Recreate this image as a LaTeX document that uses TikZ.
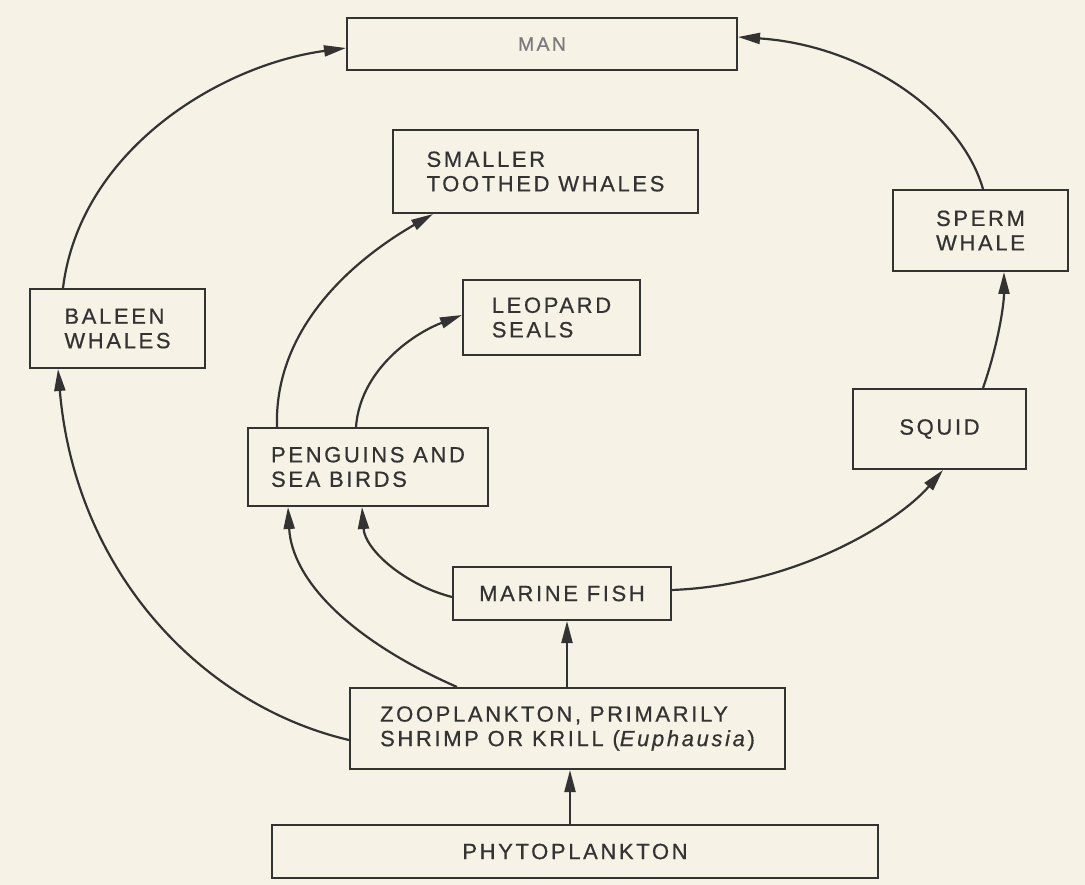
\documentclass[tikz,border=0pt]{standalone}
\usepackage{fontspec}
\setmainfont{Liberation Sans}[LetterSpace=12, FakeBold=0.6]
\usetikzlibrary{arrows.meta}
\definecolor{paper}{HTML}{F6F2E6}
\definecolor{ink}{HTML}{333333}
\definecolor{faint}{HTML}{7A7A7A}
\tikzset{
  box/.style={draw=ink, line width=2pt, rectangle, inner sep=0pt, align=left, text=ink,
    font=\fontsize{22}{24.5}\selectfont},
  arr/.style={draw=ink, line width=2.2pt, -{Triangle[length=22pt,width=11pt]}},
}
\begin{document}
\begin{tikzpicture}[x=1pt, y=-1pt]
\fill[paper] (0,0) rectangle (1085,885);
\useasboundingbox (0,0) rectangle (1085,885);

\node[box, minimum width=390pt, minimum height=52pt, text=faint, font=\fontsize{19.5}{24}\selectfont] (man) at (542,44) {MAN};
\node[box, minimum width=305pt, minimum height=83pt] (stw) at (545.5,171.5) {SMALLER\\TOOTHED WHALES};
\node[box, minimum width=175pt, minimum height=79pt] (bal) at (117.5,328.5) {BALEEN\\WHALES};
\node[box, minimum width=177pt, minimum height=75pt] (leo) at (551.5,317.5) {LEOPARD\\SEALS};
\node[box, minimum width=175pt, minimum height=81pt] (sperm) at (980.5,230.5) {SPERM\\WHALE};
\node[box, minimum width=173pt, minimum height=80pt] (squid) at (939.5,429) {SQUID};
\node[box, minimum width=240pt, minimum height=78pt] (peng) at (368,467) {PENGUINS AND\\SEA BIRDS};
\node[box, minimum width=218pt, minimum height=53pt] (fish) at (562,593.5) {MARINE FISH};
\node[box, minimum width=435pt, minimum height=81pt] (zoo) at (567.5,728.5) {ZOOPLANKTON, PRIMARILY\\SHRIMP OR KRILL (\textit{Euphausia})};
\node[box, minimum width=606pt, minimum height=53pt] (phyto) at (575,851.5) {PHYTOPLANKTON};

% straight links
\draw[arr] ([xshift=2.5pt]zoo.south |- phyto.north) -- ([xshift=2.5pt]zoo.south);
\draw[arr] ([xshift=5pt]fish.south |- zoo.north) -- ([xshift=5pt]fish.south);

% curved links
\draw[arr] ([yshift=-11.5pt]zoo.west) .. controls (200,705) and (75,570) .. ([xshift=-59.5pt]bal.south);
\draw[arr] ([xshift=-110.5pt]zoo.north) .. controls (350,640) and (292,580) .. ([xshift=-80pt]peng.south);
\draw[arr] ([yshift=-3.5pt]fish.west) .. controls (405,585) and (365,550) .. ([xshift=-6pt]peng.south);
\draw[arr] ([yshift=3.5pt]fish.east) .. controls (800,585) and (900,520) .. ([xshift=3.5pt]squid.south);
\draw[arr] ([xshift=43.5pt]squid.north) .. controls (998,345) and (1004,305) .. ([xshift=23.5pt]sperm.south);
\draw[arr] ([xshift=2.5pt]sperm.north) .. controls (960,110) and (860,45) .. ([yshift=7pt]man.east);
\draw[arr] ([xshift=-54.5pt]bal.north) .. controls (80,150) and (220,65) .. ([yshift=-4pt]man.west);
\draw[arr] ([xshift=-91pt]peng.north) .. controls (274,330) and (350,262) .. ([xshift=-112.5pt]stw.south);
\draw[arr] ([xshift=-12pt]peng.north) .. controls (360,372) and (410,335) .. ([yshift=2.5pt]leo.west);
\end{tikzpicture}
\end{document}
